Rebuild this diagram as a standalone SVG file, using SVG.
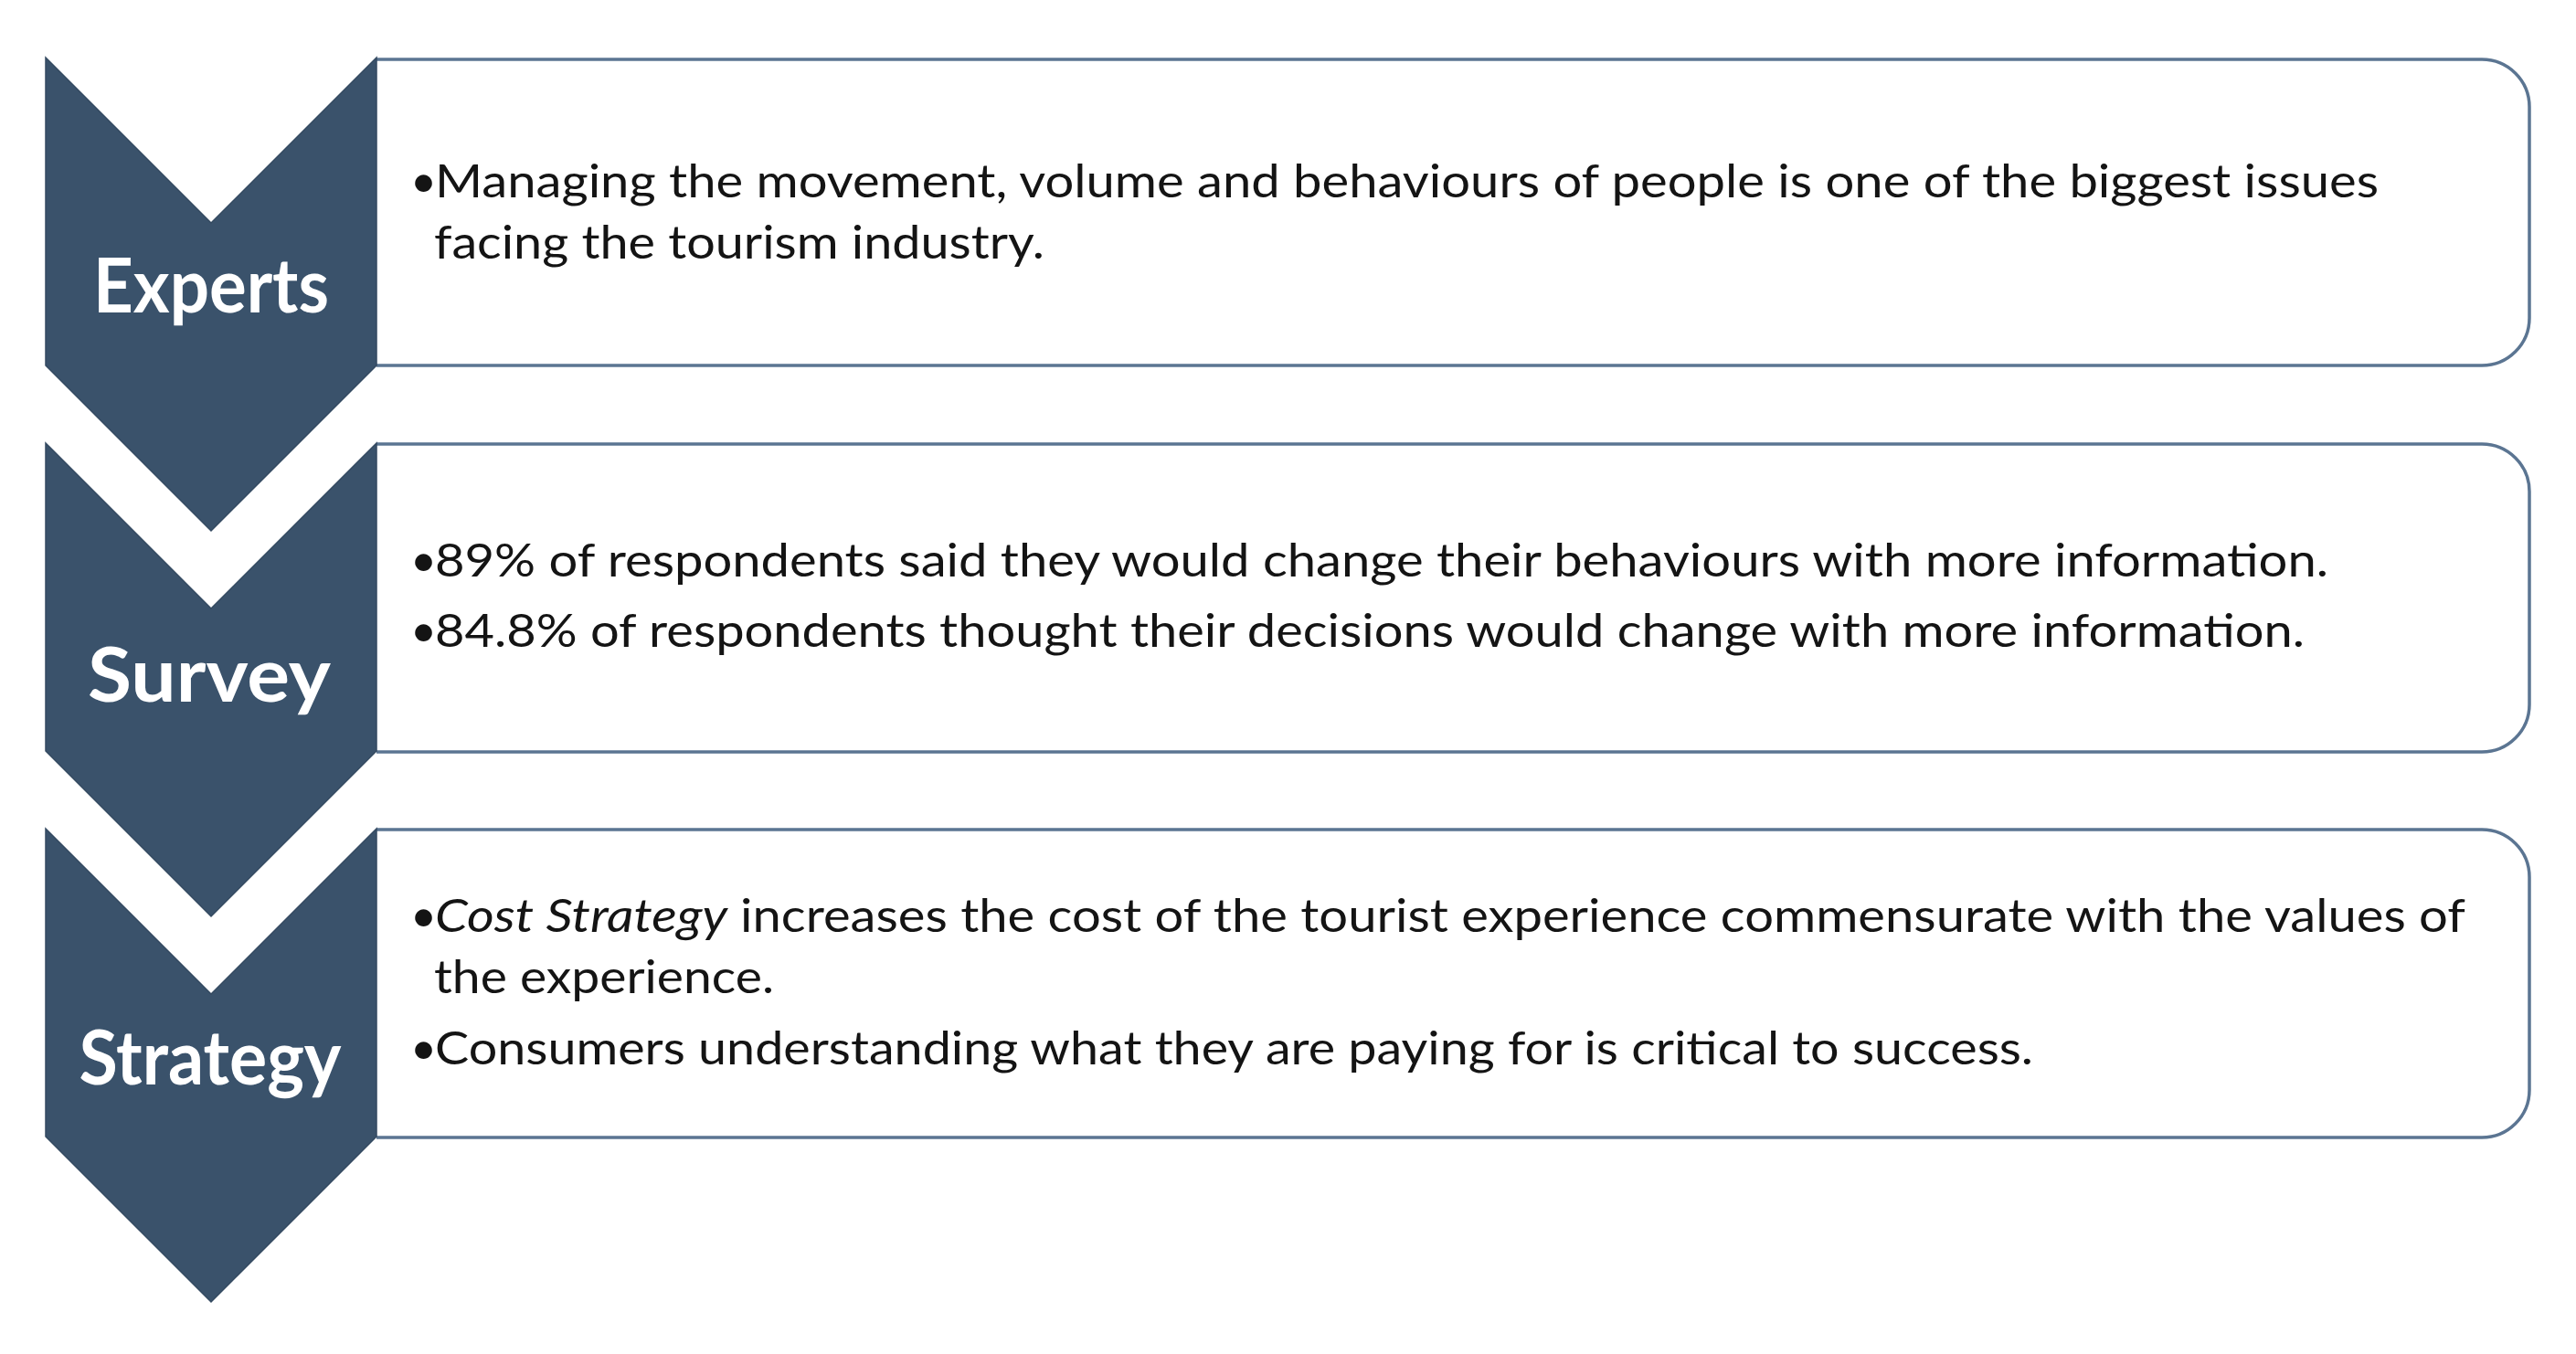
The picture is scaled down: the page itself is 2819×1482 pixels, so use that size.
<svg xmlns="http://www.w3.org/2000/svg" width="2819" height="1482" viewBox="0 0 2819 1482">
<style>
.bg{fill:#ffffff}
.chev{fill:#3A526B;stroke:#344a61;stroke-width:1.5}
.box{fill:#ffffff;stroke:#5B7592;stroke-width:3.5}
.lbl{font-family:Lato,"Open Sans","Liberation Sans",sans-serif;font-weight:700;font-size:82px;fill:#ffffff;text-anchor:middle}
.txt{font-family:Lato,"Open Sans","Liberation Sans",sans-serif;font-size:50px;fill:#141414}
.it{font-style:italic}
</style>
<rect class="bg" x="0" y="0" width="2819" height="1482"/>
<g id="connectors"/>
<g id="node-experts">
  <path class="box" d="M412,65 H2716 A52,52 0 0 1 2768,117 V348 A52,52 0 0 1 2716,400 H412"/>
  <path class="chev" d="M50,63 L231,244 L412,63 L412,400 L231,581 L50,400 Z"/>
  <text class="lbl" x="231" y="342" textLength="258" lengthAdjust="spacingAndGlyphs">Experts</text>
  <text class="txt" y="216"><tspan x="449">•</tspan><tspan x="476" textLength="2127" lengthAdjust="spacingAndGlyphs">Managing the movement, volume and behaviours of people is one of the biggest issues</tspan></text>
  <text class="txt" x="475" y="283" textLength="668" lengthAdjust="spacingAndGlyphs">facing the tourism industry.</text>
</g>
<g id="node-survey">
  <path class="box" d="M412,486 H2716 A52,52 0 0 1 2768,538 V771 A52,52 0 0 1 2716,823 H412"/>
  <path class="chev" d="M50,485 L231,666 L412,485 L412,822 L231,1003 L50,822 Z"/>
  <text class="lbl" x="229" y="768" textLength="266" lengthAdjust="spacingAndGlyphs">Survey</text>
  <text class="txt" y="631"><tspan x="449">•</tspan><tspan x="476" textLength="2072" lengthAdjust="spacingAndGlyphs">89% of respondents said they would change their behaviours with more information.</tspan></text>
  <text class="txt" y="708"><tspan x="449">•</tspan><tspan x="476" textLength="2046" lengthAdjust="spacingAndGlyphs">84.8% of respondents thought their decisions would change with more information.</tspan></text>
</g>
<g id="node-strategy">
  <path class="box" d="M412,908 H2716 A52,52 0 0 1 2768,960 V1193 A52,52 0 0 1 2716,1245 H412"/>
  <path class="chev" d="M50,907 L231,1088 L412,907 L412,1244 L231,1425 L50,1244 Z"/>
  <text class="lbl" x="230" y="1187" textLength="287" lengthAdjust="spacingAndGlyphs">Strategy</text>
  <text class="txt" y="1020"><tspan x="449">•</tspan><tspan x="476" class="it" textLength="320" lengthAdjust="spacingAndGlyphs">Cost Strategy</tspan><tspan x="810" textLength="1888" lengthAdjust="spacingAndGlyphs">increases the cost of the tourist experience commensurate with the values of</tspan></text>
  <text class="txt" x="475" y="1087" textLength="372" lengthAdjust="spacingAndGlyphs">the experience.</text>
  <text class="txt" y="1165"><tspan x="449">•</tspan><tspan x="476" textLength="1749" lengthAdjust="spacingAndGlyphs">Consumers understanding what they are paying for is critical to success.</tspan></text>
</g>
</svg>
